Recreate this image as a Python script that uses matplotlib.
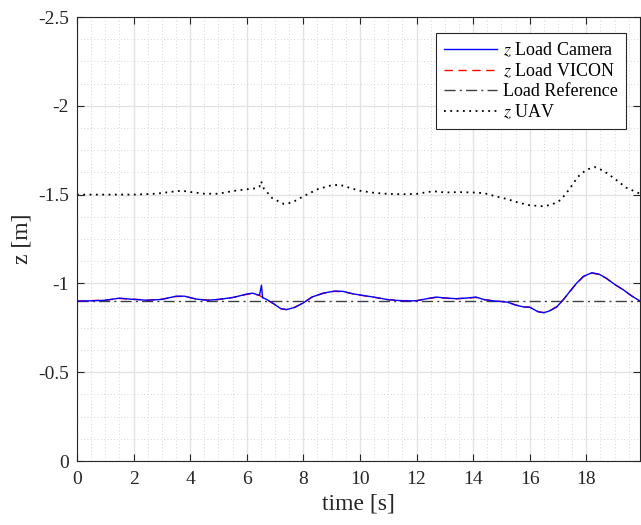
import matplotlib
matplotlib.use("Agg")
import matplotlib.pyplot as plt
from matplotlib.ticker import MultipleLocator, FuncFormatter

# ---- data ----
t_cam = [0, 0.5, 1.0, 1.5, 2.0, 2.5, 3.0, 3.5, 3.8, 4.2, 4.6, 5.0, 5.5, 6.0, 6.2, 6.45,
         6.52, 6.56, 6.7, 6.95, 7.2, 7.4, 7.7, 8.0, 8.3, 8.7, 9.1, 9.4, 9.8, 10.2, 10.6,
         11.0, 11.5, 12.0, 12.4, 12.7, 13.0, 13.4, 13.8, 14.1, 14.4, 14.8, 15.2, 15.5,
         15.8, 16.0, 16.3, 16.5, 16.7, 16.95, 17.2, 17.4, 17.65, 17.9, 18.2, 18.45, 18.7,
         19.0, 19.3, 19.6, 19.9]
z_cam = [-0.900, -0.902, -0.905, -0.917, -0.910, -0.905, -0.910, -0.928, -0.928, -0.912,
         -0.905, -0.910, -0.920, -0.940, -0.945, -0.933, -0.990, -0.920, -0.910, -0.886,
         -0.858, -0.852, -0.865, -0.890, -0.923, -0.945, -0.957, -0.955, -0.940, -0.930,
         -0.920, -0.908, -0.902, -0.902, -0.915, -0.923, -0.918, -0.914, -0.918, -0.923,
         -0.908, -0.900, -0.895, -0.878, -0.867, -0.866, -0.840, -0.835, -0.845, -0.867,
         -0.910, -0.951, -1.000, -1.040, -1.060, -1.052, -1.030, -0.995, -0.965, -0.930,
         -0.900]

t_vic = [0, 0.5, 1.0, 1.5, 2.0, 2.5, 3.0, 3.5, 3.8, 4.2, 4.6, 5.0, 5.5, 6.0, 6.2, 6.45,
         6.7, 6.95, 7.2, 7.4, 7.7, 8.0, 8.3, 8.7, 9.1, 9.4, 9.8, 10.2, 10.6,
         11.0, 11.5, 12.0, 12.4, 12.7, 13.0, 13.4, 13.8, 14.1, 14.4, 14.8, 15.2, 15.5,
         15.8, 16.0, 16.3, 16.5, 16.7, 16.95, 17.2, 17.4, 17.65, 17.9, 18.2, 18.45, 18.7,
         19.0, 19.3, 19.6, 19.9]
z_vic = [-0.900, -0.903, -0.906, -0.915, -0.911, -0.906, -0.911, -0.926, -0.927, -0.913,
         -0.906, -0.909, -0.921, -0.938, -0.943, -0.932, -0.908, -0.885,
         -0.858, -0.853, -0.866, -0.891, -0.922, -0.944, -0.955, -0.953, -0.939, -0.929,
         -0.919, -0.909, -0.903, -0.903, -0.914, -0.921, -0.917, -0.913, -0.917, -0.921,
         -0.909, -0.901, -0.896, -0.879, -0.868, -0.866, -0.841, -0.836, -0.846, -0.868,
         -0.911, -0.950, -0.998, -1.038, -1.058, -1.050, -1.029, -0.994, -0.964, -0.930,
         -0.901]

t_ref = [0, 19.9]
z_ref = [-0.9, -0.9]

t_uav = [0, 1, 2, 2.8, 3.3, 3.7, 4.0, 4.5, 5.0, 5.5, 6.0, 6.3, 6.45, 6.5, 6.55, 6.6,
         6.9, 7.3, 7.6, 8.0, 8.5, 9.0, 9.3, 9.7, 10.0, 10.5, 11.0, 11.5, 12.0, 12.3,
         12.6, 13.0, 13.5, 14.0, 14.4, 14.8, 15.2, 15.6, 16.0, 16.5, 16.8, 17.1, 17.4,
         17.7, 18.0, 18.3, 18.6, 19.0, 19.4, 19.9]
z_uav = [-1.500, -1.500, -1.500, -1.505, -1.515, -1.522, -1.515, -1.505, -1.505, -1.520,
         -1.530, -1.535, -1.545, -1.575, -1.560, -1.535, -1.480, -1.448, -1.455, -1.490,
         -1.530, -1.553, -1.555, -1.535, -1.522, -1.510, -1.504, -1.502, -1.504, -1.512,
         -1.519, -1.512, -1.514, -1.512, -1.508, -1.490, -1.475, -1.455, -1.440, -1.434,
         -1.445, -1.470, -1.530, -1.600, -1.640, -1.655, -1.635, -1.590, -1.540, -1.505]

labels = ["$z$ Load Camera", "$z$ Load VICON", "Load Reference", "$z$ UAV"]
x_ticks = [0, 2, 4, 6, 8, 10, 12, 14, 16, 18]
y_ticks = [0, -0.5, -1, -1.5, -2, -2.5]

# ---- style ----
plt.rcParams["font.family"] = ["Liberation Serif", "DejaVu Serif"]
plt.rcParams["mathtext.fontset"] = "stix"
plt.rcParams["axes.unicode_minus"] = False

fig = plt.figure(figsize=(6.41, 5.25), dpi=100)
ax = fig.add_axes([0.1201, 0.1219, 0.8784, 0.8457])

ax.plot(t_cam, z_cam, color="#0000ff", lw=1.0, label=labels[0], zorder=4)
ax.plot(t_vic, z_vic, color="#ff0000", lw=1.0, ls=(0, (6, 4)), label=labels[1], zorder=3)
ax.plot(t_ref, z_ref, color="#404040", lw=1.0, ls=(0, (8, 3, 1.5, 3)), label=labels[2], zorder=2)
ax.plot(t_uav, z_uav, color="black", lw=1.3, ls=(0, (1, 2.5)), label=labels[3], zorder=2)

ax.set_xlim(0, 19.9)
ax.set_ylim(0, -2.5)
ax.set_xticks(x_ticks)
ax.set_yticks(y_ticks)
ax.xaxis.set_minor_locator(MultipleLocator(0.5))
ax.yaxis.set_minor_locator(MultipleLocator(0.125))
fmt = FuncFormatter(lambda v, p: "%g" % v)
ax.xaxis.set_major_formatter(fmt)
ax.yaxis.set_major_formatter(fmt)

ax.grid(True, which="major", color="#e3e3e3", lw=1.0, ls="-")
ax.grid(True, which="minor", color="#c8c8c8", lw=0.6, ls=(0, (1, 3)))
ax.set_axisbelow(True)

ax.tick_params(which="major", direction="in", length=5, width=0.8, top=True, right=True,
               labelsize=14, colors="#262626")
ax.tick_params(axis="x", which="major", pad=7)
ax.tick_params(axis="y", which="major", pad=6)
ax.tick_params(which="minor", length=0, top=True, right=True)
for s in ax.spines.values():
    s.set_color("#262626")
    s.set_linewidth(0.8)

ax.set_xlabel("time [s]", fontsize=17, color="#262626", labelpad=4)
ax.set_ylabel("z [m]", fontsize=17, color="#262626", labelpad=4)

leg = ax.legend(loc="upper right", bbox_to_anchor=(0.975, 0.964), borderaxespad=0,
                fontsize=13, frameon=True, fancybox=False, edgecolor="#262626",
                framealpha=1, handlelength=2.9, borderpad=0.45, labelspacing=0.15,
                handletextpad=0.35)
leg.get_frame().set_linewidth(0.8)

fig.savefig("out.png", dpi=100)
